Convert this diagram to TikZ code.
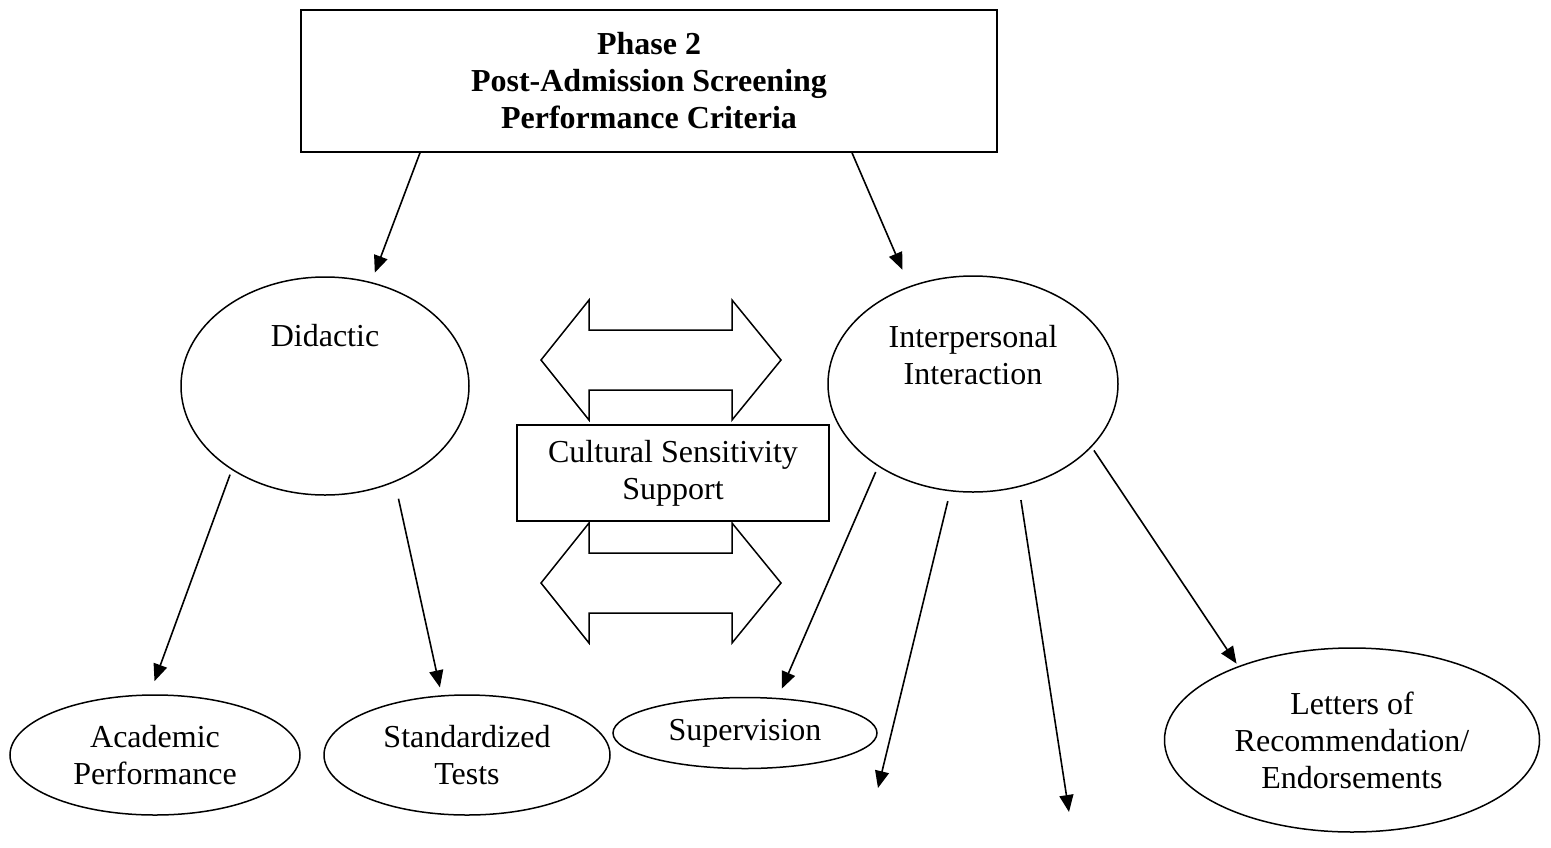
\documentclass[tikz,border=0pt]{standalone}
\usepackage{fontspec}
\setmainfont{Liberation Serif}
\usetikzlibrary{shapes.geometric,arrows.meta}

\begin{document}
\begin{tikzpicture}[x=1pt,y=-1pt]
\tikzstyle{every node}=[font=\fontsize{32}{37}\selectfont,align=center,inner sep=0pt]
\tikzstyle{oval}=[draw,ellipse,line width=1.5pt]
\tikzstyle{plainbox}=[draw,rectangle,line width=1.6pt]
\tikzstyle{arr}=[-{Triangle[length=17pt,width=14pt]},line width=1.6pt]
\useasboundingbox (0,0) rectangle (1551,847);

\node[plainbox,minimum width=696pt,minimum height=142pt,font=\fontsize{32}{37}\selectfont\bfseries] (phase) at (649,81) {Phase 2\\Post-Admission Screening\\Performance Criteria};

\node[oval,minimum width=288pt,minimum height=218pt] (did) at (325,386) {};
\node (didtxt) at (325,336) {Didactic};
\node[oval,minimum width=290pt,minimum height=216pt] (inter) at (973,384) {};
\node (intertxt) at (973,355) {Interpersonal\\Interaction};
\node[plainbox,minimum width=312pt,minimum height=96pt] (culture) at (673,473) {Cultural Sensitivity\\Support};

\node[oval,minimum width=290pt,minimum height=120pt] (acad) at (155,755) {Academic\\Performance};
\node[oval,minimum width=286pt,minimum height=120pt] (stand) at (467,755) {Standardized\\Tests};
\node[oval,minimum width=264pt,minimum height=71pt] (superv) at (745,733) {Supervision};
\node[oval,minimum width=375pt,minimum height=184pt] (letters) at (1352,740) {Letters of\\Recommendation/\\Endorsements};

\coordinate (loose1) at (878,788);
\coordinate (loose2) at (1069,812);

% double block arrows round the middle box
\draw[line width=1.5pt] (541,360) -- (589,300) -- (589,330) -- (732,330) -- (732,300) -- (781,360) -- (732,420) -- (732,390) -- (589,390) -- (589,420) -- cycle;
\draw[line width=1.5pt] (541,583) -- (589,523) -- (589,553) -- (732,553) -- (732,523) -- (781,583) -- (732,643) -- (732,613) -- (589,613) -- (589,643) -- cycle;

% connectors
\draw[arr,shorten >=10pt] ([xshift=-229pt]phase.south) -- (did.66);
\draw[arr,shorten >=18pt] ([xshift=203pt]phase.south) -- (inter.123);
\draw[arr,shorten <=5pt,shorten >=14pt] (did.222) -- (acad.95);
\draw[arr,shorten <=17pt,shorten >=8pt] (did.306) -- (stand.113);
\draw[arr,shorten <=6pt,shorten >=10pt] (inter.221) -- (superv.47);
\draw[arr,shorten <=10pt] (inter.258) -- (loose1);
\draw[arr,shorten <=13pt] (inter.294) -- (loose2);
\draw[arr,shorten <=4pt,shorten >=3pt] (inter.332) -- (letters.147);
\end{tikzpicture}
\end{document}
